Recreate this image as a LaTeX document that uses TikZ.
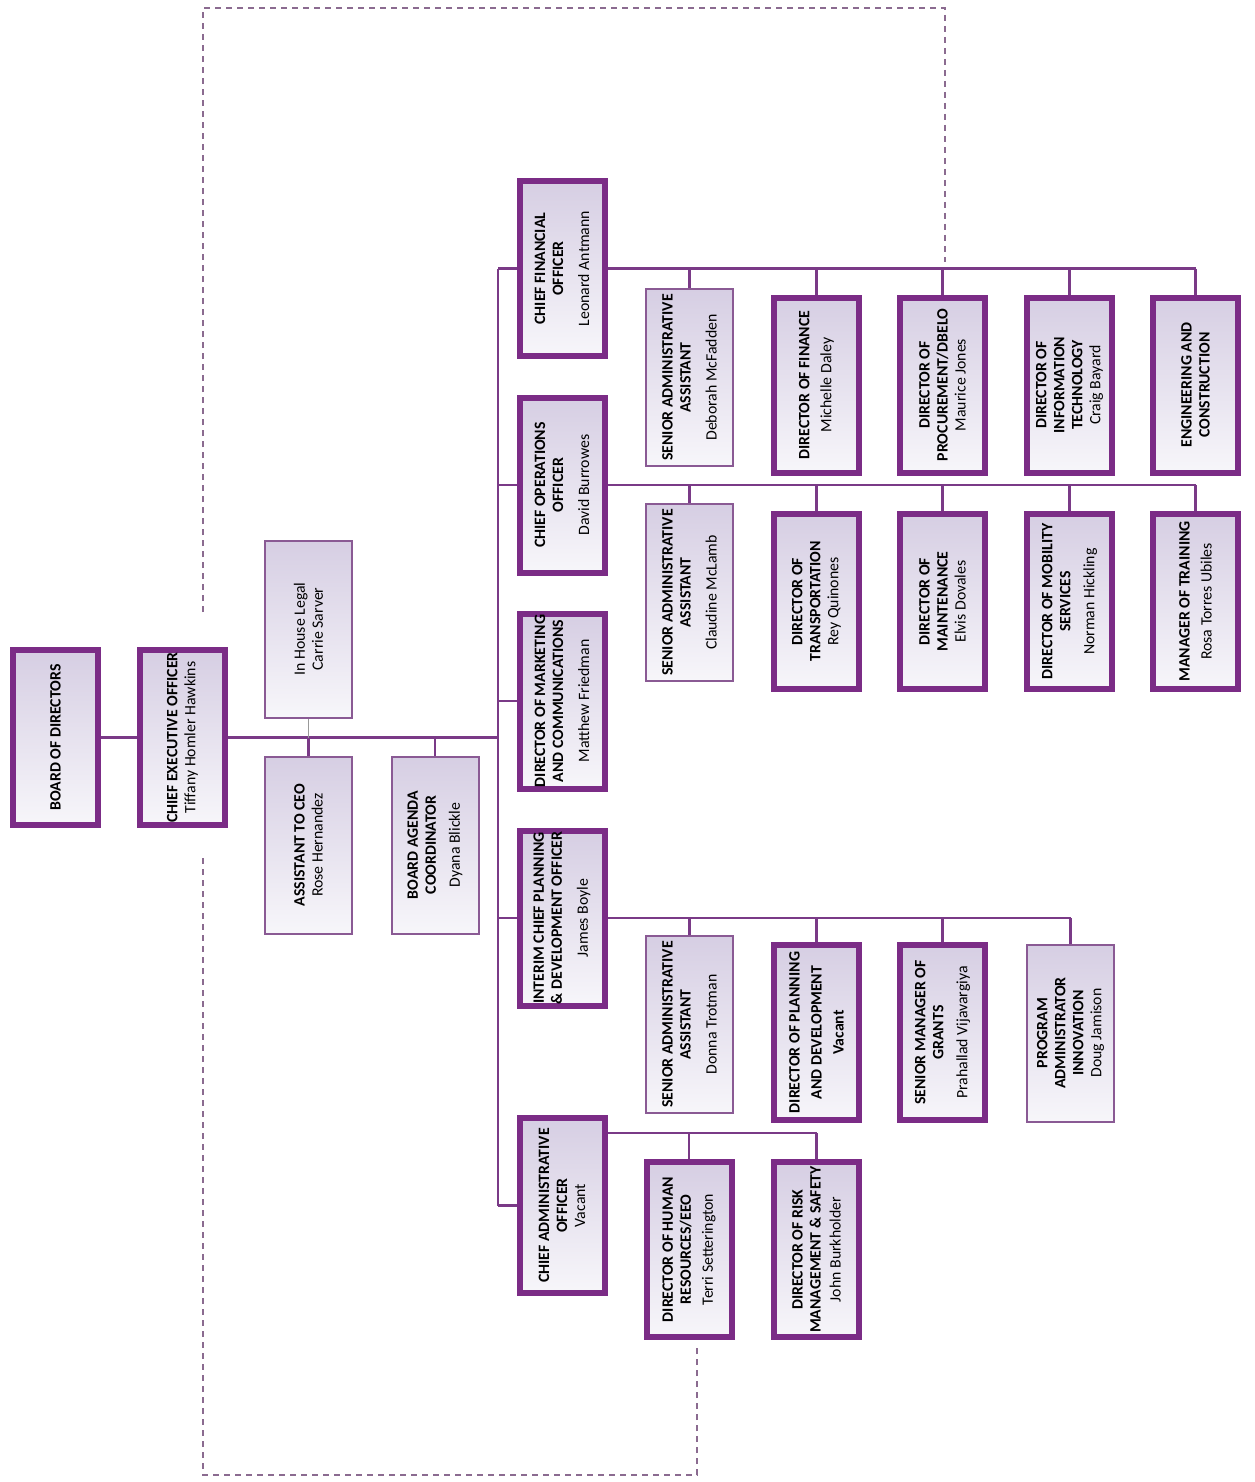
\documentclass[tikz,border=0pt]{standalone}
\usepackage{fontspec}
\setmainfont{Carlito}
\definecolor{boxc}{HTML}{7B2C86}
\definecolor{thinc}{HTML}{8A5A94}
\definecolor{linec}{HTML}{7A3A87}
\definecolor{dashc}{HTML}{8B6B90}
\definecolor{fillA}{HTML}{D6CEE3}
\definecolor{fillB}{HTML}{F7F6FA}
\newcommand{\orgfs}{\fontsize{15.8}{18}\selectfont\bfseries}
\newcommand{\nm}{\mdseries}
\tikzset{
  box/.style={rotate=90, draw=boxc, line width=6pt, top color=fillA, bottom color=fillB,
    minimum width=175pt, minimum height=85pt, inner sep=1pt, align=center, font=\orgfs},
  thinbox/.style={box, draw=thinc, line width=2pt, minimum width=177pt, minimum height=87pt},
  conn/.style={draw=linec, line width=2.5pt},
  thinconn/.style={draw=gray!80, line width=1.5pt},
  dashline/.style={draw=dashc, line width=2pt, dash pattern=on 6pt off 5pt},
}
\begin{document}
\begin{tikzpicture}[x=1pt,y=-1pt]
\useasboundingbox[fill=white] (0,0) rectangle (1254,1482);

% dashed frame lines
\coordinate (da) at (203,612);
\coordinate (db) at (203,8);
\coordinate (dc) at (945,8);
\coordinate (dd) at (945,262);
\coordinate (de) at (203,858);
\coordinate (df) at (203,1475);
\coordinate (dg) at (697,1475);
\coordinate (dh) at (697,1345);
\draw[dashline] (da) -- (db) -- (dc) -- (dd);
\draw[dashline] (de) -- (df) -- (dg) -- (dh);

% left part
\node[box] (bod) at (55.5,737.5) {BOARD OF DIRECTORS};
\node[box] (ceo) at (182.5,737.5) {CHIEF EXECUTIVE OFFICER\\\nm Tiffany Homler Hawkins};
\node[thinbox] (legal) at (308.5,629) {\nm In House Legal\\\nm Carrie Sarver};
\node[thinbox] (asst) at (308.5,845) {ASSISTANT TO CEO\\\nm Rose Hernandez};
\node[thinbox] (agenda) at (435,845) {BOARD AGENDA\\COORDINATOR\\[6pt]\nm Dyana Blickle};

% chiefs
\node[box] (cfo) at (562,268.5) {CHIEF FINANCIAL\\OFFICER\\[8pt]\nm Leonard Antmann};
\node[box] (coo) at (562,485) {CHIEF OPERATIONS\\OFFICER\\[8pt]\nm David Burrowes};
\node[box] (dmc) at (562,701) {DIRECTOR OF MARKETING\\AND COMMUNICATIONS\\[8pt]\nm Matthew Friedman};
\node[box] (icp) at (562,918) {INTERIM CHIEF PLANNING\\\& DEVELOPMENT OFFICER\\[8pt]\nm James Boyle};
\node[box] (cao) at (562,1205.5) {CHIEF ADMINISTRATIVE\\OFFICER\\\nm Vacant};

% CFO children
\node[thinbox] (sa1) at (689.5,377.5) {SENIOR ADMINISTRATIVE\\ASSISTANT\\[8pt]\nm Deborah McFadden};
\node[box] (fin) at (816.5,385) {DIRECTOR OF FINANCE\\[4pt]\nm Michelle Daley};
\node[box] (proc) at (942.5,385) {DIRECTOR OF\\PROCUREMENT/DBELO\\\nm Maurice Jones};
\node[box] (it) at (1069.5,385) {DIRECTOR OF\\INFORMATION\\TECHNOLOGY\\\nm Craig Bayard};
\node[box] (eng) at (1195.5,385) {ENGINEERING AND\\CONSTRUCTION};

% COO children
\node[thinbox] (sa2) at (689.5,592.5) {SENIOR ADMINISTRATIVE\\ASSISTANT\\[8pt]\nm Claudine McLamb};
\node[box] (trans) at (816.5,601.5) {DIRECTOR OF\\TRANSPORTATION\\\nm Rey Quinones};
\node[box] (maint) at (942.5,601.5) {DIRECTOR OF\\MAINTENANCE\\\nm Elvis Dovales};
\node[box] (mob) at (1069.5,601.5) {DIRECTOR OF MOBILITY\\SERVICES\\[6pt]\nm Norman Hickling};
\node[box] (train) at (1195.5,601.5) {MANAGER OF TRAINING\\[4pt]\nm Rosa Torres Ubiles};

% ICPDO children
\node[thinbox] (sa3) at (689.5,1024.5) {SENIOR ADMINISTRATIVE\\ASSISTANT\\[8pt]\nm Donna Trotman};
\node[box] (plan) at (816.5,1032.5) {DIRECTOR OF PLANNING\\[4pt]AND DEVELOPMENT\\[4pt]Vacant};
\node[box] (grants) at (942.5,1032.5) {SENIOR MANAGER OF\\GRANTS\\[6pt]\nm Prahallad Vijavargiya};
\node[thinbox] (prog) at (1070.5,1033) {PROGRAM\\ADMINISTRATOR\\INNOVATION\\\nm Doug Jamison};

% CAO children
\node[box] (hr) at (689,1249.5) {DIRECTOR OF HUMAN\\RESOURCES/EEO\\[4pt]\nm Terri Setterington};
\node[box] (risk) at (816.5,1249.5) {DIRECTOR OF RISK\\MANAGEMENT \& SAFETY\\[2pt]\nm John Burkholder};

% connectors
\coordinate (sp) at (498,0);
\draw[conn] (bod) -- (ceo);
\draw[conn] (ceo) -- (ceo -| sp);
\draw[thinconn] (ceo -| legal) -- (legal);
\draw[conn] (ceo -| asst) -- (asst);
\draw[conn] (ceo -| agenda) -- (agenda);
\draw[conn] (cfo -| sp) -- (cao -| sp);
\foreach \c in {cfo,coo,dmc,icp,cao} {\draw[conn] (\c -| sp) -- (\c);}
\draw[conn] (cfo) -- (cfo -| eng);
\foreach \c in {sa1,fin,proc,it,eng} {\draw[conn] (cfo -| \c) -- (\c);}
\draw[conn] (coo) -- (coo -| train);
\foreach \c in {sa2,trans,maint,mob,train} {\draw[conn] (coo -| \c) -- (\c);}
\draw[conn] (icp) -- (icp -| prog);
\foreach \c in {sa3,plan,grants,prog} {\draw[conn] (icp -| \c) -- (\c);}
\coordinate (caobus) at (0,1133);
\draw[conn] (caobus -| cao.south) -- (caobus -| risk);
\foreach \c in {hr,risk} {\draw[conn] (caobus -| \c) -- (\c);}
\end{tikzpicture}
\end{document}
